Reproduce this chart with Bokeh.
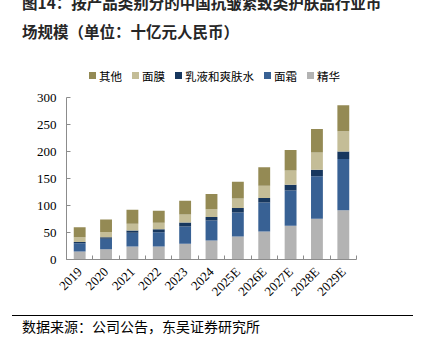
import math
from bokeh.plotting import figure
from bokeh.layouts import column
from bokeh.models import ColumnDataSource, FixedTicker, Range1d, Div
from bokeh.embed import file_html
from bokeh.resources import INLINE

# ---------------- data (十亿元人民币) ----------------
years = ["2019", "2020", "2021", "2022", "2023", "2024",
         "2025E", "2026E", "2027E", "2028E", "2029E"]
essence = [15, 19, 24, 24, 29, 35, 42.5, 52, 62.5, 75.5, 91]          # 精华
cream = [15, 19.5, 25.5, 26.5, 32, 37, 44.5, 53.5, 65.5, 78.5, 95]      # 面霜
lotion = [2.5, 2.5, 4, 5.5, 7.5, 6.5, 8.5, 8.5, 10.5, 12, 14]           # 乳液和爽肤水
mask = [8.5, 10, 12.5, 12, 15, 14.5, 17.5, 22.5, 26.5, 32, 37.5]        # 面膜
other = [18.5, 23, 26, 22.5, 25.5, 28.5, 31, 34.5, 38, 43.5, 48]        # 其他

series_keys = ["essence", "cream", "lotion", "mask", "other"]
series_names = ["精华", "面霜", "乳液和爽肤水", "面膜", "其他"]
series_colors = ["#B3B3B3", "#386194", "#17375E", "#C4BD97", "#948A54"]
y_ticks = [0, 50, 100, 150, 200, 250, 300]

title_line1 = "图14：按产品类别分的中国抗皱紧致类护肤品行业市"
title_line2 = "场规模（单位：十亿元人民币）"
source_note = "数据来源：公司公告，东吴证券研究所"

W = 425
HEAD_H = 89          # header rows 0..89
MAIN_H = 218         # chart rows 89..307
FOOT_H = 346 - HEAD_H - MAIN_H
FL, FR = 66, 356     # frame left/right (px)
FRAME_TOP, FRAME_BOTTOM = 97, 259

CJK = "'Noto Sans CJK SC', sans-serif"

# ---------------- header: title + legend (HTML) ----------------
legend_html = "".join(
    f'<span style="display:inline-flex;align-items:center;margin-right:10px;">'
    f'<span style="display:inline-block;width:7px;height:7px;background:{series_colors[i]};'
    f'margin-right:3px;"></span>'
    f'<span style="font-family:{CJK};font-size:11.5px;line-height:12px;color:#000;">'
    f'{series_names[i]}</span></span>'
    for i in [4, 3, 2, 1, 0])

head_html = (
    f'<div style="position:relative;width:{W}px;height:{HEAD_H}px;overflow:hidden;background:#fff;">'
    f'<div style="position:absolute;left:22px;top:-8.5px;white-space:nowrap;font-family:{CJK};'
    f'font-weight:bold;font-size:15.5px;line-height:20px;color:#262626;">{title_line1}</div>'
    f'<div style="position:absolute;left:22px;top:21px;white-space:nowrap;font-family:{CJK};'
    f'font-weight:bold;font-size:15.5px;line-height:20px;color:#262626;">{title_line2}</div>'
    f'<div style="position:absolute;left:89px;top:69.7px;height:12px;display:flex;'
    f'white-space:nowrap;">{legend_html}</div>'
    f'</div>')
head = Div(text=head_html, width=W, height=HEAD_H, margin=(0, 0, 0, 0))

# ---------------- main chart ----------------
xs = list(range(len(years)))
source = ColumnDataSource(dict(x=xs, essence=essence, cream=cream,
                               lotion=lotion, mask=mask, other=other))

p = figure(width=W, height=MAIN_H,
           x_range=Range1d(-0.5, len(years) - 0.5), y_range=Range1d(0, 300),
           output_backend="svg", toolbar_location=None,
           min_border_left=FL, min_border_right=W - FR,
           min_border_top=FRAME_TOP - HEAD_H,
           min_border_bottom=HEAD_H + MAIN_H - FRAME_BOTTOM,
           margin=(0, 0, 0, 0))
p.outline_line_color = None
p.xgrid.grid_line_color = None
p.ygrid.grid_line_color = None
p.background_fill_color = "white"
p.border_fill_color = "white"

p.vbar_stack(series_keys, x="x", width=0.45, color=series_colors,
             line_color=None, source=source)

ya = p.yaxis[0]
ya.ticker = FixedTicker(ticks=y_ticks)
ya.axis_line_color = "#8c8c8c"
ya.major_tick_line_color = "#8c8c8c"
ya.major_tick_in = 4
ya.major_tick_out = 0
ya.minor_tick_line_color = None
ya.major_label_text_font = "Liberation Serif"
ya.major_label_text_font_size = "13px"
ya.major_label_text_color = "#000000"
ya.major_label_standoff = 10

xa = p.xaxis[0]
xa.ticker = FixedTicker(ticks=xs, minor_ticks=[i - 0.5 for i in range(len(years) + 1)])
xa.major_label_overrides = {i: y for i, y in zip(xs, years)}
xa.major_label_orientation = math.pi / 4
xa.axis_line_color = "#8c8c8c"
xa.major_tick_line_color = None
xa.minor_tick_line_color = "#8c8c8c"
xa.minor_tick_in = 4
xa.minor_tick_out = 0
xa.major_label_text_font = "Liberation Serif"
xa.major_label_text_font_size = "13px"
xa.major_label_text_color = "#000000"
xa.major_label_standoff = 4

# ---------------- footer: rule + source (HTML) ----------------
foot_html = (
    f'<div style="position:relative;width:{W}px;height:{FOOT_H}px;overflow:hidden;background:#fff;">'
    f'<div style="position:absolute;left:12px;top:7.5px;width:401px;height:1.4px;background:#000;"></div>'
    f'<div style="position:absolute;left:22px;top:8.5px;white-space:nowrap;font-family:{CJK};'
    f'font-size:14px;line-height:20px;color:#000;">{source_note}</div>'
    f'</div>')
foot = Div(text=foot_html, width=W, height=FOOT_H, margin=(0, 0, 0, 0))

layout = column(head, p, foot, spacing=0, margin=(0, 0, 0, 0))
open("out.html", "w").write(file_html(layout, INLINE))
